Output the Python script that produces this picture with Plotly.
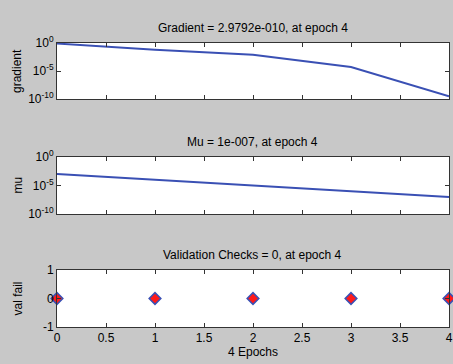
import plotly.graph_objects as go

epochs = [0, 1, 2, 3, 4]
gradient = [0.8, 0.06, 0.008, 5e-5, 2.9792e-10]
mu = [1e-3, 1e-4, 1e-5, 1e-6, 1e-7]
val_fail = [0, 0, 0, 0, 0]

titles = ["Gradient = 2.9792e-010, at epoch 4",
          "Mu = 1e-007, at epoch 4",
          "Validation Checks = 0, at epoch 4"]
ylabels = ["gradient", "mu", "val fail"]
log_tickvals = [1, 1e-5, 1e-10]
log_ticktext = ["10<sup>0</sup>", "10<sup>-5</sup>", "10<sup>-10</sup>"]
x_tickvals = [0, 0.5, 1, 1.5, 2, 2.5, 3, 3.5, 4]
x_ticktext = ["0", "0.5", "1", "1.5", "2", "2.5", "3", "3.5", "4"]

W, H = 453, 364
BG = "#c8c8c8"
BLUE = "#3a50b4"
FONT = "Liberation Sans, Arial, sans-serif"
FS = 12

# pixel boxes (top, bottom) for each panel
boxes = [(43, 99), (157, 214), (270, 327)]
xl, xr = 57, 449

fig = go.Figure()
fig.add_trace(go.Scatter(x=epochs, y=gradient, mode="lines",
                         line=dict(color=BLUE, width=2), xaxis="x", yaxis="y"))
fig.add_trace(go.Scatter(x=epochs, y=mu, mode="lines",
                         line=dict(color=BLUE, width=2), xaxis="x2", yaxis="y2"))
fig.add_trace(go.Scatter(x=epochs, y=val_fail, mode="markers", cliponaxis=False,
                         marker=dict(symbol="diamond", size=9, color="#ff1a1a",
                                     line=dict(color=BLUE, width=1.5)),
                         xaxis="x3", yaxis="y3"))

layout = dict(width=W, height=H, paper_bgcolor=BG, plot_bgcolor="white",
              margin=dict(l=0, r=0, t=0, b=0, autoexpand=False), showlegend=False,
              font=dict(family=FONT, size=FS, color="black"))

anns = []
for i, (t, b) in enumerate(boxes):
    sfx = "" if i == 0 else str(i + 1)
    dom_y = [1 - b / H, 1 - t / H]
    xa = dict(domain=[xl / W, xr / W], range=[0, 4], showgrid=False, zeroline=False,
              showline=True, linecolor="#333333", linewidth=1, mirror="ticks",
              ticks="inside", ticklen=4, tickcolor="#333333", automargin=False,
              tickvals=x_tickvals, ticktext=x_ticktext,
              showticklabels=(i == 2), anchor="y" + sfx,
              tickfont=dict(size=FS, family=FONT))
    if i == 2:
        xa["title"] = dict(text="4 Epochs", standoff=2, font=dict(size=FS, family=FONT))
    ya = dict(domain=dom_y, showgrid=False, zeroline=False, showline=True,
              linecolor="#333333", linewidth=1, mirror="ticks", ticks="inside",
              ticklen=4, tickcolor="#333333", anchor="x" + sfx, automargin=False,
              tickfont=dict(size=FS, family=FONT))
    if i < 2:
        ya.update(type="log", range=[-10, 0], tickvals=log_tickvals, ticktext=log_ticktext)
    else:
        ya.update(range=[-1, 1], tickvals=[-1, 0, 1], ticktext=["-1", "0", "1"])
    layout["xaxis" + sfx] = xa
    layout["yaxis" + sfx] = ya
    anns.append(dict(text=titles[i], x=(xl + xr) / 2 / W, y=1 - (t - 15) / H,
                     xref="paper", yref="paper", showarrow=False,
                     xanchor="center", yanchor="middle", font=dict(size=FS, family=FONT)))
    anns.append(dict(text=ylabels[i], x=17 / W, y=1 - ((t + b) / 2) / H,
                     xref="paper", yref="paper", showarrow=False, textangle=-90,
                     xanchor="center", yanchor="middle", font=dict(size=FS, family=FONT)))
layout["annotations"] = anns
fig.update_layout(**layout)
fig.write_html("out.html", config={"displayModeBar": False},
               post_script="document.body.style.margin='0';document.body.style.overflow='hidden';")
